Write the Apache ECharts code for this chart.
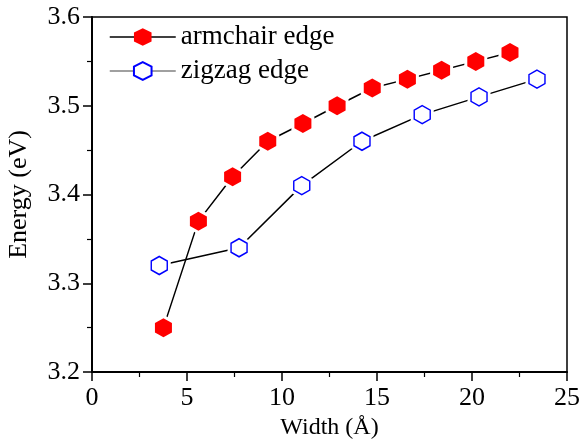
<!DOCTYPE html>
<html><head><meta charset="utf-8">
<script src="https://cdn.jsdelivr.net/npm/echarts@6/dist/echarts.min.js"></script>
<style>html,body{margin:0;padding:0;background:#fff}#c{width:582px;height:441px}</style>
</head><body><div id="c"></div>
<script>
// Data
const armchairWidth = [3.76, 5.6, 7.4, 9.25, 11.1, 12.9, 14.75, 16.6, 18.4, 20.2, 22.0];
const armchairEnergy = [3.25, 3.37, 3.42, 3.46, 3.48, 3.50, 3.52, 3.53, 3.54, 3.55, 3.56];
const zigzagWidth = [3.54, 7.74, 11.04, 14.21, 17.38, 20.37, 23.42];
const zigzagEnergy = [3.32, 3.34, 3.41, 3.46, 3.49, 3.51, 3.53];
const seriesNames = ['armchair edge', 'zigzag edge'];
const xTicks = [0, 5, 10, 15, 20, 25];
const yTicks = [3.2, 3.3, 3.4, 3.5, 3.6];

const pair = (xs, ys) => xs.map((x, i) => [x, ys[i]]);
const armData = pair(armchairWidth, armchairEnergy);
const zigData = pair(zigzagWidth, zigzagEnergy);
const hex = 'path://M0,-1 L0.866,-0.5 L0.866,0.5 L0,1 L-0.866,0.5 L-0.866,-0.5 Z';
const font = 'Liberation Serif';

const chart = echarts.init(document.getElementById('c'), null, {renderer: 'canvas'});
chart.setOption({
  animation: false,
  backgroundColor: '#fff',
  grid: {left: 92, right: 15, top: 17, bottom: 69, show: true, borderColor: '#000', borderWidth: 1.5,
         containLabel: false, outerBoundsMode: 'none'},
  legend: {
    left: 104, top: 18, orient: 'vertical',
    itemWidth: 66, itemHeight: 22, itemGap: 6, itemTextGap: 6,
    textStyle: {fontFamily: font, fontSize: 27, color: '#000', lineHeight: 28},
    data: [
      {name: seriesNames[0], lineStyle: {color: '#000', width: 1.5}},
      {name: seriesNames[1], lineStyle: {color: '#808080', width: 1.5}}
    ]
  },
  xAxis: {
    type: 'value', min: xTicks[0], max: xTicks[xTicks.length - 1], interval: 5,
    name: 'Width (Å)', nameLocation: 'middle', nameGap: 41,
    nameTextStyle: {fontFamily: font, fontSize: 24, color: '#000'},
    axisLine: {lineStyle: {color: '#000', width: 2}},
    axisTick: {show: true, inside: false, length: 9, lineStyle: {color: '#000', width: 1.5}},
    minorTick: {show: true, splitNumber: 2, length: 5, lineStyle: {color: '#000', width: 1.2}},
    axisLabel: {fontFamily: font, fontSize: 26, color: '#000', margin: 13},
    splitLine: {show: false}
  },
  yAxis: {
    type: 'value', min: yTicks[0], max: yTicks[yTicks.length - 1], interval: 0.1,
    name: 'Energy (eV)', nameLocation: 'middle', nameGap: 60,
    nameTextStyle: {fontFamily: font, fontSize: 26, color: '#000'},
    axisLine: {show: true, lineStyle: {color: '#000', width: 2}},
    axisTick: {show: true, inside: false, length: 9, lineStyle: {color: '#000', width: 1.5}},
    minorTick: {show: true, splitNumber: 2, length: 5, lineStyle: {color: '#000', width: 1.2}},
    axisLabel: {fontFamily: font, fontSize: 26, color: '#000', margin: 12, formatter: v => v.toFixed(1)},
    splitLine: {show: false}
  },
  series: [
    {name: seriesNames[0], type: 'line', data: armData, z: 2, symbol: hex, symbolSize: [17, 19],
     lineStyle: {color: '#000', width: 1.5}, itemStyle: {color: '#ff0000'}},
    {name: seriesNames[1], type: 'line', data: zigData, z: 2, symbol: hex, symbolSize: [17, 19],
     lineStyle: {color: '#000', width: 1.5}, itemStyle: {color: '#fff', borderColor: '#0000ff', borderWidth: 1.5}},
    // white halos to make gaps between lines and markers
    {name: 'h1', type: 'scatter', data: armData, z: 3, symbol: hex, symbolSize: [23, 26], silent: true,
     itemStyle: {color: '#fff', opacity: 1}},
    {name: 'h2', type: 'scatter', data: zigData, z: 3, symbol: hex, symbolSize: [23, 26], silent: true,
     itemStyle: {color: '#fff', opacity: 1}},
    {name: 'm1', type: 'scatter', data: armData, z: 4, symbol: hex, symbolSize: [17, 19], silent: true,
     itemStyle: {color: '#ff0000', opacity: 1}},
    {name: 'm2', type: 'scatter', data: zigData, z: 4, symbol: hex, symbolSize: [16, 18], silent: true,
     itemStyle: {color: '#fff', borderColor: '#0000ff', borderWidth: 1.5, opacity: 1}}
  ]
});
</script></body></html>
